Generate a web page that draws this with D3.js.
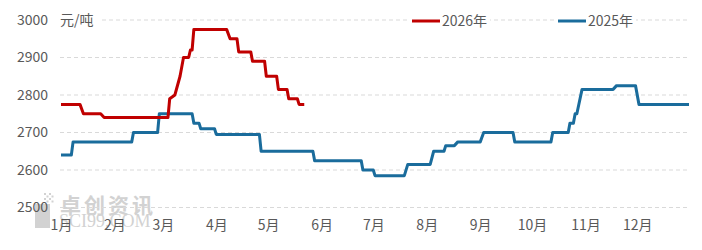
<!DOCTYPE html>
<html><head><meta charset="utf-8">
<script src="https://cdn.jsdelivr.net/npm/d3@7/dist/d3.min.js"></script>
<style>body{margin:0;background:#fff}svg{display:block}text{font-family:"Noto Sans CJK SC","Noto Sans",sans-serif}</style>
</head><body><svg id="c" width="702" height="250"></svg>
<script>
const yTicks = [2500, 2600, 2700, 2800, 2900, 3000];
const months = ["1月","2月","3月","4月","5月","6月","7月","8月","9月","10月","11月","12月"];
const seriesNames = ["2026年", "2025年"];
const dates2026 = ["01-01","01-12","01-14","01-24","01-26","03-04","03-05","03-08","03-11","03-13","03-16","03-17","03-18","03-19","04-07","04-09","04-13","04-14","04-21","04-22","04-29","04-30","05-06","05-07","05-12","05-13","05-18","05-19","05-22"];
const values2026 = [2775,2775,2750,2750,2740,2740,2790,2800,2850,2900,2900,2920,2920,2975,2975,2950,2950,2915,2915,2890,2890,2850,2850,2815,2815,2790,2790,2775,2775];
const dates2025 = ["01-01","01-07","01-08","02-11","02-12","02-26","02-27","03-18","03-19","03-22","03-23","03-31","04-01","04-26","04-27","05-27","05-28","06-24","06-25","07-01","07-02","07-19","07-21","08-03","08-05","08-11","08-12","08-17","08-19","09-01","09-03","09-20","09-21","10-12","10-13","10-22","10-23","10-25","10-26","10-27","10-30","11-17","11-19","11-30","12-02","12-31"];
const values2025 = [2640,2640,2675,2675,2700,2700,2750,2750,2725,2725,2710,2710,2695,2695,2650,2650,2625,2625,2600,2600,2585,2585,2615,2615,2650,2650,2665,2665,2675,2675,2700,2700,2675,2675,2700,2700,2725,2725,2750,2750,2815,2815,2825,2825,2775,2775];

const svg = d3.select("#c");
const parse = d3.timeParse("%Y-%m-%d");
const toDate = s => parse("2025-" + s);
const x = d3.scaleTime().domain([toDate("01-01"), toDate("12-31")]).range([61, 689]);
const y = d3.scaleLinear().domain([2500, 3000]).range([207.5, 20]);
const textCol = "#595959";

// watermark
const wm = svg.append("g").attr("fill", "#d2d2d2");
wm.append("rect").attr("x", 35).attr("y", 204).attr("width", 15).attr("height", 24);
for (let i = 0; i < 4; i++) for (let j = 0; j < 4; j++) {
  if ((i + j) % 2 === 0) wm.append("rect").attr("x", 44 + i * 2.5).attr("y", 193 + j * 2.5).attr("width", 2).attr("height", 2);
}
wm.append("text").attr("x", 60).attr("y", 213).attr("font-size", 21).attr("font-weight", "bold").attr("letter-spacing", 3).text("卓创资讯");
wm.append("text").attr("x", 59).attr("y", 227).attr("font-size", 18).style("font-family", "'Liberation Serif',serif").text("SCI99.COM");

// grid
svg.append("g").selectAll("line").data(yTicks).join("line")
  .attr("x1", 60).attr("x2", 690).attr("y1", d => y(d)).attr("y2", d => y(d))
  .attr("stroke", "#d9d9d9").attr("stroke-width", 1).attr("stroke-dasharray", "4,3");

// y axis labels
const yAxis = d3.axisLeft(y).tickValues(yTicks).tickSize(0).tickPadding(0).tickFormat(d3.format("d"));
const ya = svg.append("g").attr("transform", "translate(48,0)").call(yAxis);
ya.select(".domain").remove();
ya.selectAll("text").attr("fill", textCol).attr("font-size", 14).style("font-family", "'Noto Sans CJK SC',sans-serif");

// x axis labels
const monthDates = d3.range(12).map(m => new Date(2025, m, 1));
const xAxis = d3.axisBottom(x).tickValues(monthDates).tickSize(0).tickPadding(0).tickFormat((d, i) => months[i]);
const xa = svg.append("g").attr("transform", "translate(0,220)").call(xAxis);
xa.select(".domain").remove();
xa.selectAll("text").attr("fill", textCol).attr("font-size", 14).attr("dy", "0.71em").style("font-family", "'Noto Sans CJK SC',sans-serif");

// unit label
svg.append("rect").attr("x", 58).attr("y", 12).attr("width", 44).attr("height", 18).attr("fill", "#fff");
svg.append("text").attr("x", 60).attr("y", 20).attr("dy", "0.35em").attr("font-size", 14).attr("fill", textCol).text("元/吨");

// lines
const line = d3.line().x(d => x(d[0])).y(d => y(d[1]));
const s2025 = dates2025.map((d, i) => [toDate(d), values2025[i]]);
const s2026 = dates2026.map((d, i) => [toDate(d), values2026[i]]);
const colors = ["#c00000", "#1a6c9c"];
svg.append("path").datum(s2025).attr("d", line).attr("fill", "none").attr("stroke", colors[1]).attr("stroke-width", 3).attr("stroke-linejoin", "round");
svg.append("path").datum(s2026).attr("d", line).attr("fill", "none").attr("stroke", colors[0]).attr("stroke-width", 3).attr("stroke-linejoin", "round");

// legend
const legX = [412, 558];
seriesNames.forEach((n, i) => {
  const g = svg.append("g").attr("transform", `translate(${legX[i]},21)`);
  g.append("rect").attr("x", -2).attr("y", -10).attr("width", 80).attr("height", 20).attr("fill", "#fff");
  g.append("line").attr("x1", 0).attr("x2", 28).attr("y1", 0).attr("y2", 0).attr("stroke", colors[i]).attr("stroke-width", 3);
  g.append("text").attr("x", 30).attr("y", 0).attr("dy", "0.35em").attr("font-size", 14).attr("fill", textCol).text(n);
});
</script></body></html>
